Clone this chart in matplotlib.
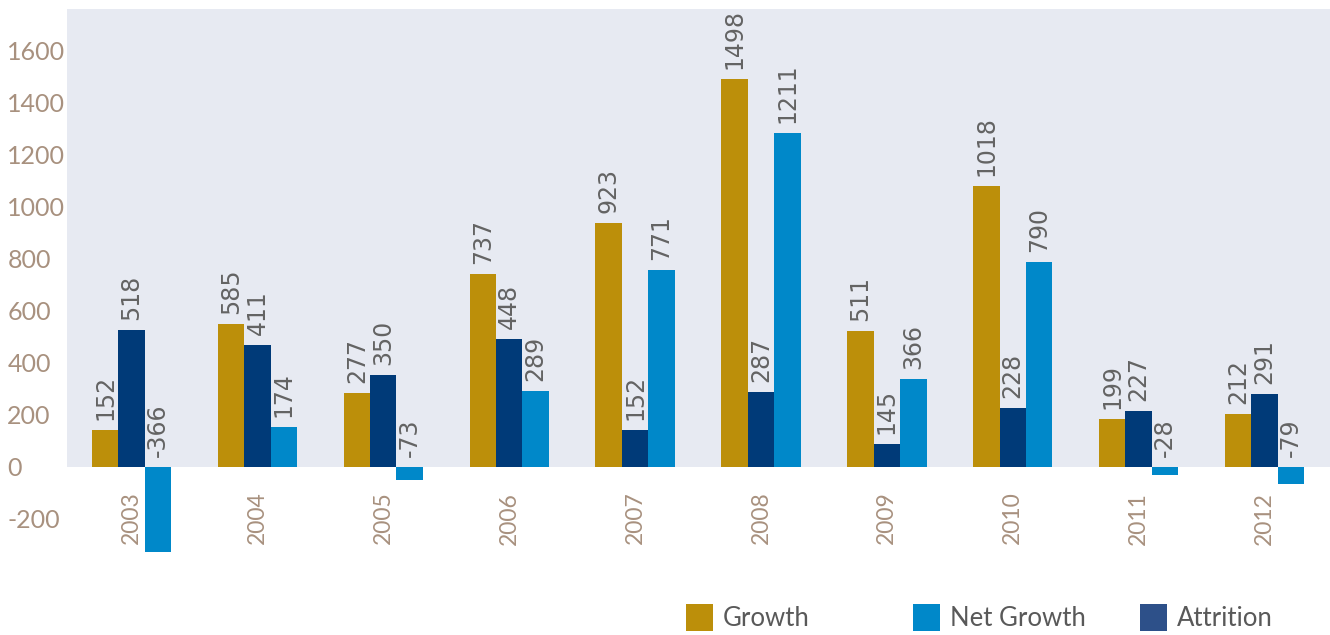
import matplotlib
matplotlib.use("Agg")
import matplotlib.pyplot as plt
from matplotlib.patches import Rectangle
import numpy as np

plt.rcParams['axes.unicode_minus'] = False

years = ['2003', '2004', '2005', '2006', '2007', '2008', '2009', '2010', '2011', '2012']

# bar heights as drawn in the reference
growth = [141, 549, 283, 741, 937, 1491, 522, 1080, 183, 203]
attrition = [526, 468, 353, 491, 141, 287, 87, 226, 214, 280]
net_growth = [-327, 153, -51, 291, 757, 1283, 337, 787, -32, -67]

# value labels printed above the bars
growth_lbl = [152, 585, 277, 737, 923, 1498, 511, 1018, 199, 212]
attrition_lbl = [518, 411, 350, 448, 152, 287, 145, 228, 227, 291]
net_growth_lbl = [-366, 174, -73, 289, 771, 1211, 366, 790, -28, -79]

c_growth = '#BC8F0A'
c_attr = '#003A78'
c_net = '#0088C9'
c_attr_leg = '#2D5089'
tan = '#A8917F'
grey = '#636363'

fig = plt.figure(figsize=(13.3, 6.35), dpi=100)
ax = fig.add_axes([0.0504, 0.1217, 0.9496, 0.8641])
ax.set_facecolor('white')

ymin, ymax = -350, 1760
ax.axhspan(0, ymax, color='#E7EAF2', zorder=0, lw=0)

x = np.arange(len(years))
w = 0.21
series = [(growth, growth_lbl, c_growth, -w),
          (attrition, attrition_lbl, c_attr, 0),
          (net_growth, net_growth_lbl, c_net, w)]

for vals, lbls, col, off in series:
    ax.bar(x + off, vals, w, color=col, zorder=2, lw=0)
    for xi, v, l in zip(x + off, vals, lbls):
        ax.annotate(str(l), (xi, max(v, 0)), xytext=(0, 7), textcoords='offset points',
                    rotation=90, ha='center', va='bottom', fontsize=17,
                    color=grey, family='DejaVu Sans', zorder=3)

ax.set_xlim(-0.512, 9.52)
ax.set_ylim(ymin, ymax)

ax.set_yticks(range(-200, 1601, 200))
ax.tick_params(axis='y', length=0, pad=43, labelsize=18, labelcolor=tan)
for t in ax.get_yticklabels():
    t.set_ha('left')
    t.set_family('Lato')

ax.spines['bottom'].set_position(('data', 0))
for s in ax.spines.values():
    s.set_visible(False)
ax.set_xticks(x)
ax.set_xticklabels(years, rotation=90, va='top', family='Lato')
ax.tick_params(axis='x', length=0, pad=18, labelsize=16.5, labelcolor=tan)

# legend drawn in fixed slots
leg_items = [('Growth', c_growth), ('Net Growth', c_net), ('Attrition', c_attr_leg)]
W, H = 1330, 635
for i, (name, col) in enumerate(leg_items):
    x0 = 686 + i * 227
    fig.add_artist(Rectangle((x0 / W, 1 - 631 / H), 27 / W, 27 / H,
                             transform=fig.transFigure, color=col, lw=0))
    fig.text((x0 + 37) / W, 1 - 619 / H, name, fontsize=18.5, color='#595959',
             family='Lato', va='center', ha='left')

fig.savefig('out.png', dpi=100)
